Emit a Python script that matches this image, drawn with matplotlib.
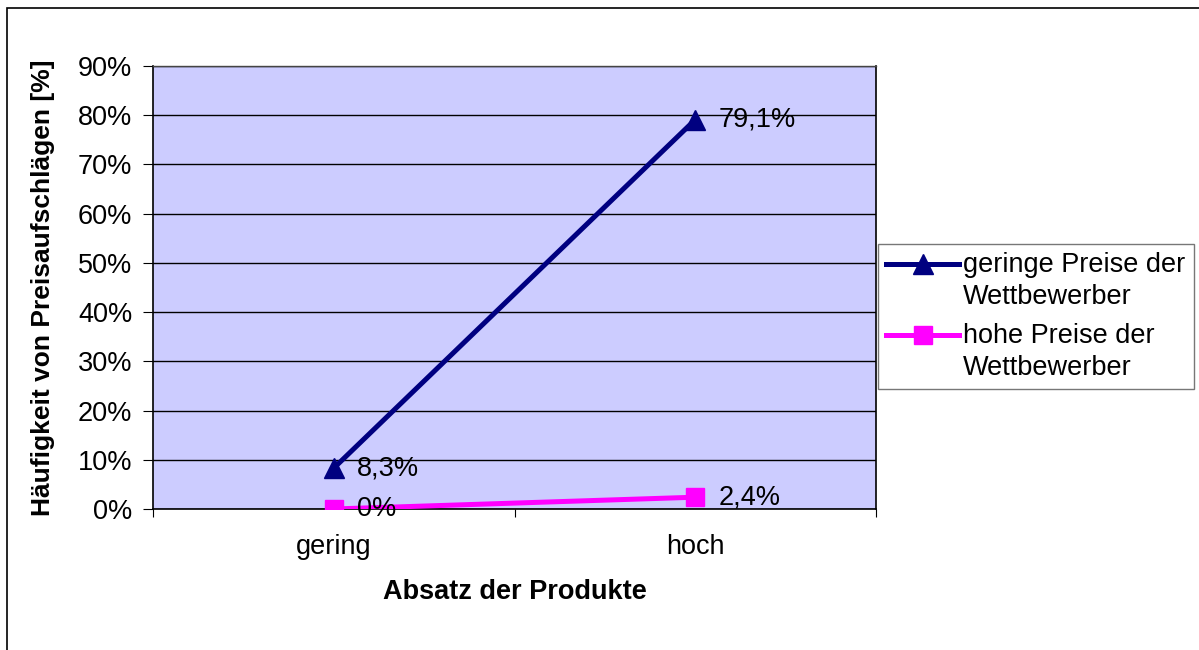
import matplotlib.pyplot as plt
from matplotlib.patches import Rectangle

categories = ["gering", "hoch"]
geringe_preise = [8.3, 79.1]
hohe_preise = [0.0, 2.4]
labels_geringe = ["8,3%", "79,1%"]
labels_hohe = ["0%", "2,4%"]
yticks = [0, 10, 20, 30, 40, 50, 60, 70, 80, 90]
series_names = ["geringe Preise der\nWettbewerber", "hohe Preise der\nWettbewerber"]

plt.rcParams['font.family'] = ['Liberation Sans', 'DejaVu Sans']
fs = 19.5

fig = plt.figure(figsize=(11.99, 6.5), dpi=100)
fig.patches.append(Rectangle((7 / 1199, -0.1), 1.2, 1.1 - 8 / 650, transform=fig.transFigure,
                             fill=False, edgecolor='black', linewidth=1.2))

ax = fig.add_axes([153 / 1199, 1 - 509 / 650, 723 / 1199, 443 / 650])
ax.set_facecolor('#CCCCFF')

x = list(range(len(categories)))
l1, = ax.plot(x, geringe_preise, color='#000080', linewidth=3.6, marker='^', markersize=14.5,
              zorder=3, label=series_names[0])
l2, = ax.plot(x, hohe_preise, color='#FF00FF', linewidth=3.6, marker='s', markersize=13.5,
              zorder=3, label=series_names[1])

for xi, v, t in zip(x, geringe_preise, labels_geringe):
    ax.annotate(t, (xi, v), xytext=(23, 0), textcoords='offset pixels',
                va='center', ha='left', fontsize=fs, zorder=4)
for xi, v, t in zip(x, hohe_preise, labels_hohe):
    ax.annotate(t, (xi, v), xytext=(23, 0), textcoords='offset pixels',
                va='center', ha='left', fontsize=fs, zorder=4)

ax.set_xlim(-0.5, 1.5)
ax.set_ylim(0, 90)
ax.set_yticks(yticks)
ax.set_yticklabels([f"{t}%" for t in yticks], fontsize=fs)
ax.set_xticks([-0.5, 0.5, 1.5])
ax.set_xticklabels([])
ax.set_xticks(x, minor=True)
ax.set_xticklabels(categories, minor=True, fontsize=fs)
ax.tick_params(axis='x', which='minor', length=0, pad=18)
ax.tick_params(axis='x', which='major', length=6, direction='out', color='black')
ax.tick_params(axis='y', length=7, direction='out', pad=8)
ax.yaxis.grid(True, color='black', linewidth=1)
ax.set_axisbelow(True)
for s in ['left', 'bottom', 'right']:
    ax.spines[s].set_color('black')
    ax.spines[s].set_linewidth(1.2)
ax.spines['top'].set_color('#444444')
ax.spines['top'].set_linewidth(1)

ax.set_xlabel("Absatz der Produkte", fontsize=fs, fontweight='bold', labelpad=14)
ax.set_ylabel("Häufigkeit von Preisaufschlägen [%]", fontsize=19, fontweight='bold', labelpad=16)

leg = fig.legend(loc='upper left', bbox_to_anchor=(878 / 1199, 1 - 244 / 650),
                 fontsize=fs, frameon=True, fancybox=False, edgecolor='#555555',
                 handlelength=2.7, handletextpad=0.15, borderpad=0.3, labelspacing=0.5,
                 borderaxespad=0)
leg.get_frame().set_linewidth(1)
for t in leg.get_texts():
    t.set_linespacing(1.28)
# handles sit on the first text line, as in the original
for h in leg.legend_handles:
    h.set_ydata([y + 12.5 for y in h.get_ydata()])

fig.savefig("out.png", dpi=100)
